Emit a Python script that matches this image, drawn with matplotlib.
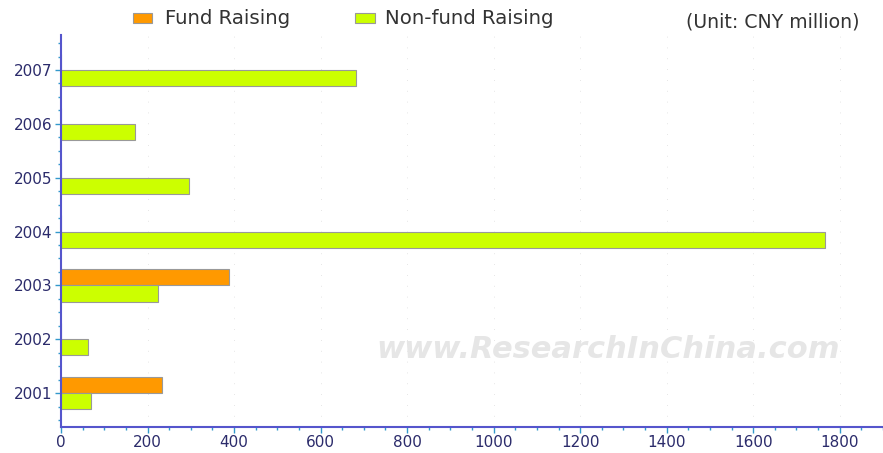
import matplotlib
matplotlib.use("Agg")
import matplotlib.pyplot as plt
from matplotlib.ticker import MultipleLocator
from matplotlib.patches import Rectangle
import numpy as np

years = ["2001", "2002", "2003", "2004", "2005", "2006", "2007"]
fund_raising = [234, 0, 389, 0, 0, 0, 0]
non_fund_raising = [69, 62, 225, 1765, 296, 171, 683]
x_ticks = [0, 200, 400, 600, 800, 1000, 1200, 1400, 1600, 1800]
series_names = ["Fund Raising", "Non-fund Raising"]

W, H = 883, 453
fig = plt.figure(figsize=(W / 100, H / 100), dpi=100)
ax = fig.add_axes([61 / W, 1 - 427 / H, 1 - 61 / W, (427 - 35) / H])

pos = np.arange(len(years))
bh = 0.3
orange = "#FF9900"
green = "#CCFF00"
edge = "#999999"

ax.barh(pos + bh / 2, fund_raising, height=bh, color=orange, edgecolor=edge, linewidth=0.8)
ax.barh(pos - bh / 2, non_fund_raising, height=bh, color=green, edgecolor=edge, linewidth=0.8)

ax.set_xlim(0, 1900)
ax.set_ylim(-0.63, 6.65)
ax.set_yticks(pos)
ax.set_yticklabels(years)
ax.set_xticks(x_ticks)
ax.xaxis.set_minor_locator(MultipleLocator(50))
ax.yaxis.set_minor_locator(MultipleLocator(0.25))

for s in ["top", "right"]:
    ax.spines[s].set_visible(False)
for s in ["left", "bottom"]:
    ax.spines[s].set_color("#5555cc")
    ax.spines[s].set_linewidth(1.5)

label_color = "#2b2b6b"
ax.tick_params(axis="both", which="major", length=4, width=1, color="#3399cc",
               labelcolor=label_color, labelsize=11, pad=2)
ax.tick_params(axis="both", which="minor", length=2.5, width=1, color="#3399cc")

for xv in x_ticks[1:]:
    ax.axvline(xv, color="#dddddd", lw=0.6, ls=(0, (1, 12)), zorder=0)

# legend (manual, figure coordinates)
for (px0, px1, tx), col, name in zip([(133, 152, 165), (355, 375, 385)],
                                     [orange, green], series_names):
    fig.patches.append(Rectangle((px0 / W, 1 - 23 / H), (px1 - px0) / W, 10 / H,
                                 facecolor=col, edgecolor=edge, linewidth=0.8,
                                 transform=fig.transFigure, figure=fig))
    fig.text(tx / W, 1 - 18 / H, name, ha="left", va="center",
             fontsize=14.2, color="#333333")

fig.text(860 / W, 1 - 22 / H, "(Unit: CNY million)", ha="right", va="center",
         fontsize=13.6, color="#333333")

# watermark
fig.text(608 / W, 1 - 350 / H, "www.ResearchInChina.com", ha="center", va="center",
         fontsize=22, style="italic", color="#e6e6e6", fontweight="bold", zorder=0)

fig.savefig("out.png", dpi=100)
